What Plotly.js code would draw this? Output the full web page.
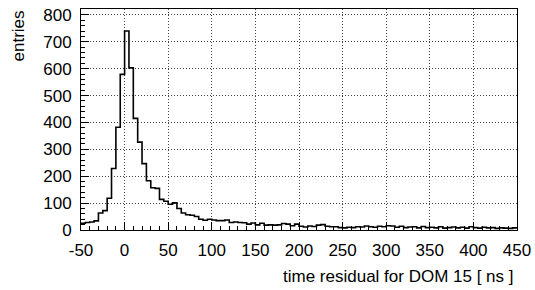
<!DOCTYPE html>
<html>
<head>
<meta charset="utf-8">
<script src="https://cdn.plot.ly/plotly-3.0.1.min.js"></script>
<style>html,body{margin:0;padding:0;background:#fff;}#chart{width:535px;height:290px;}</style>
</head>
<body>
<div id="chart"></div>
<script>
// Histogram: 5 ns bins from -50 to 450 ns (lower bin edges)
const binStart = -50;
const binWidth = 5;
const counts = [
  25, 28, 30, 34, 63, 72, 118, 229, 382, 579,
  740, 603, 415, 327, 247, 183, 157, 155, 114, 107,
  96, 101, 80, 63, 57, 55, 50, 40, 36, 40,
  37, 35, 35, 37, 28, 30, 28, 27, 22, 26,
  19, 25, 18, 19, 18, 19, 24, 22, 16, 22,
  14, 11, 15, 13, 18, 20, 14, 12, 12, 9,
  8, 10, 9, 12, 11, 15, 12, 10, 14, 12,
  16, 15, 10, 14, 9, 11, 12, 8, 13, 9,
  10, 8, 12, 7, 9, 11, 8, 10, 7, 12,
  9, 7, 10, 8, 9, 6, 8, 7, 6, 8
];
const xTickVals = [-50, 0, 50, 100, 150, 200, 250, 300, 350, 400, 450];
const yTickVals = [0, 100, 200, 300, 400, 500, 600, 700, 800];
const xTitle = 'time residual for DOM 15 [ ns ]';
const yTitle = 'entries';

const edges = counts.map((c, i) => binStart + i * binWidth);
edges.push(binStart + counts.length * binWidth);
const stepY = counts.concat([counts[counts.length - 1]]);

const font = 'Liberation Sans, Arial, Helvetica, sans-serif';

const trace = {
  type: 'scatter', mode: 'lines',
  x: edges, y: stepY,
  line: {shape: 'hv', color: '#000', width: 1.6},
  hoverinfo: 'skip'
};

const layout = {
  width: 535, height: 290,
  margin: {l: 81, r: 18, t: 9, b: 60},
  paper_bgcolor: '#fff', plot_bgcolor: '#fff',
  showlegend: false,
  font: {family: font, size: 17, color: '#000'},
  xaxis: {
    range: [-50, 450], tickvals: xTickVals, ticktext: xTickVals.map(String),
    ticks: 'inside', ticklen: 8, tickcolor: '#000', tickwidth: 1,
    minor: {ticks: 'inside', dtick: 10, ticklen: 4, tickcolor: '#000', showgrid: false},
    showgrid: true, gridcolor: '#444', griddash: '1px,2px', gridwidth: 1,
    showline: true, mirror: true, linecolor: '#000', linewidth: 1,
    zeroline: false, tickfont: {size: 17, family: font}, fixedrange: true,
    ticklabelstandoff: 5
  },
  yaxis: {
    range: [0, 822], tickvals: yTickVals, ticktext: yTickVals.map(String),
    ticks: 'inside', ticklen: 8, tickcolor: '#000', tickwidth: 1,
    minor: {ticks: 'inside', dtick: 20, ticklen: 4, tickcolor: '#000', showgrid: false},
    showgrid: true, gridcolor: '#444', griddash: '1px,2px', gridwidth: 1,
    showline: true, mirror: true, linecolor: '#000', linewidth: 1,
    zeroline: false, tickfont: {size: 17, family: font}, fixedrange: true,
    ticklabelstandoff: 5
  },
  annotations: [
    {text: xTitle, xref: 'paper', yref: 'paper', x: 1, y: 0, xanchor: 'right', yanchor: 'middle',
     yshift: -46, xshift: -1, showarrow: false, font: {size: 17, family: font}},
    {text: yTitle, xref: 'paper', yref: 'paper', x: 0, y: 1, xanchor: 'center', yanchor: 'top',
     xshift: -63, yshift: 0, textangle: -90, showarrow: false, font: {size: 17, family: font}}
  ]
};

Plotly.newPlot('chart', [trace], layout, {displayModeBar: false, staticPlot: true});
</script>
</body>
</html>
